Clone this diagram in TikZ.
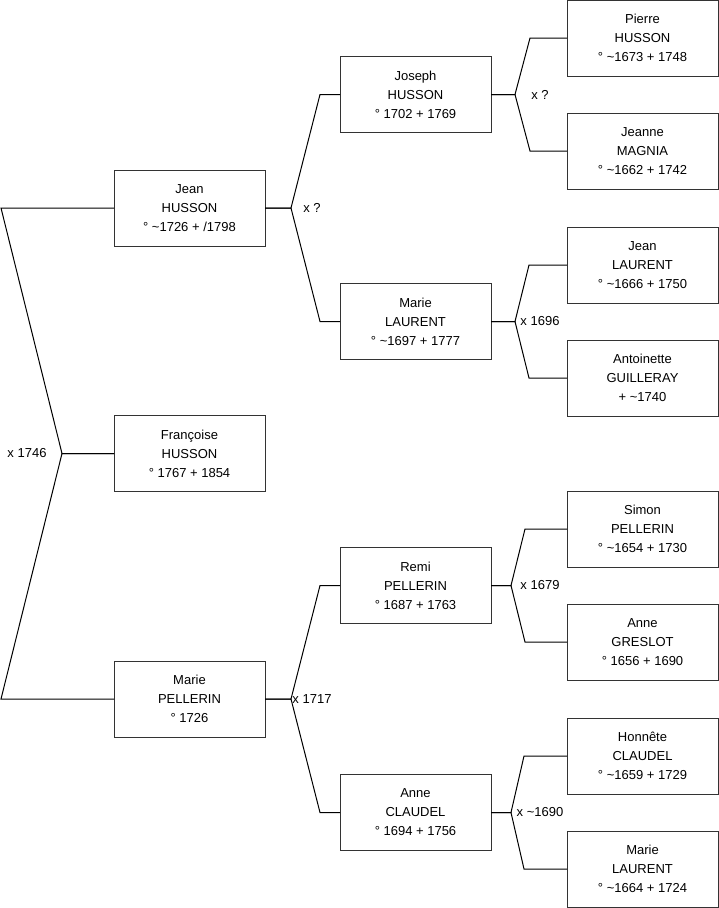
\documentclass[tikz,border=0pt]{standalone}
\usepackage{fontspec}
\setmainfont{Liberation Sans}
\usetikzlibrary{positioning, calc}

\begin{document}
\begin{tikzpicture}[
			x=1pt, y=-1pt,
			% Define styles for the people and the unions
			person/.style={
				draw=black!80,
				line width=1pt,
				minimum width=151pt,
				minimum height=76pt,
				inner sep=0pt,
				outer sep=0pt,
				align=center,
				font=\fontsize{13}{19}\selectfont
			},
			link/.style={
				draw=black,
				line width=1pt
			},
			union/.style={
				inner sep=0pt,
				font=\fontsize{13}{19}\selectfont
			}
			]
			
			\useasboundingbox (0,0) rectangle (719,908);
			
			% --- 1. GREAT-GRANDPARENTS ---
			\node[person] (pierre) at (642.5,38) {Pierre\\HUSSON\\° \textasciitilde1673 + 1748};
			\node[person, below=37pt of pierre] (jeanne) {Jeanne\\MAGNIA\\° \textasciitilde1662 + 1742};
			\node[person, below=38pt of jeanne] (jean_l) {Jean\\LAURENT\\° \textasciitilde1666 + 1750};
			\node[person, below=37pt of jean_l] (antoinette) {Antoinette\\GUILLERAY\\+ \textasciitilde1740};
			\node[person, below=75pt of antoinette] (simon) {Simon\\PELLERIN\\° \textasciitilde1654 + 1730};
			\node[person, below=37pt of simon] (anne_g) {Anne\\GRESLOT\\° 1656 + 1690};
			\node[person, below=38pt of anne_g] (honnete) {Honnête\\CLAUDEL\\° \textasciitilde1659 + 1729};
			\node[person, below=37pt of honnete] (marie_l2) {Marie\\LAURENT\\° \textasciitilde1664 + 1724};
			
			% --- 2. GRANDPARENTS ---
			\node[person] (joseph) at ($(pierre)!0.5!(jeanne)+(-227,0)$) {Joseph\\HUSSON\\° 1702 + 1769};
			\node[person] (marie_l) at ($(jean_l)!0.5!(antoinette)+(-227,0)$) {Marie\\LAURENT\\° \textasciitilde1697 + 1777};
			\node[person] (remi) at ($(simon)!0.5!(anne_g)+(-227,0)$) {Remi\\PELLERIN\\° 1687 + 1763};
			\node[person] (anne_c) at ($(honnete)!0.5!(marie_l2)+(-227,0)$) {Anne\\CLAUDEL\\° 1694 + 1756};
			
			% --- 3. PARENTS ---
			\node[person] (jean) at ($(joseph)!0.5!(marie_l)+(-226,0)$) {Jean\\HUSSON\\° \textasciitilde1726 + /1798};
			\node[person] (marie_p) at ($(remi)!0.5!(anne_c)+(-226,0)$) {Marie\\PELLERIN\\° 1726};
			
			% --- 4. CHILD ---
			\node[person] (francoise) at ($(jean)!0.5!(marie_p)$) {Françoise\\HUSSON\\° 1767 + 1854};
			
			% Links child -> parents
			\draw[link] (francoise.west) -- ++(-52,0) -- ([xshift=-113]jean.west) -- (jean.west);
			\draw[link] (francoise.west) -- ++(-52,0) -- ([xshift=-113]marie_p.west) -- (marie_p.west);
			\node[union] (u_francoise) at ([xshift=-87]francoise.west) {x 1746};
			
			% Links parents -> grandparents
			\draw[link] (jean.east) -- ++(26,0) -- ([xshift=-20]joseph.west) -- (joseph.west);
			\draw[link] (jean.east) -- ++(26,0) -- ([xshift=-20]marie_l.west) -- (marie_l.west);
			\node[union] (u_jean) at ([xshift=47]jean.east) {x ?};
			
			\draw[link] (marie_p.east) -- ++(26,0) -- ([xshift=-20]remi.west) -- (remi.west);
			\draw[link] (marie_p.east) -- ++(26,0) -- ([xshift=-20]anne_c.west) -- (anne_c.west);
			\node[union] (u_marie_p) at ([xshift=47]marie_p.east) {x 1717};
			
			% Links grandparents -> great-grandparents
			\draw[link] (joseph.east) -- ++(24,0) -- ([xshift=-37]pierre.west) -- (pierre.west);
			\draw[link] (joseph.east) -- ++(24,0) -- ([xshift=-37]jeanne.west) -- (jeanne.west);
			\node[union] (u_joseph) at ([xshift=49]joseph.east) {x ?};
			
			\draw[link] (marie_l.east) -- ++(24,0) -- ([xshift=-38]jean_l.west) -- (jean_l.west);
			\draw[link] (marie_l.east) -- ++(24,0) -- ([xshift=-38]antoinette.west) -- (antoinette.west);
			\node[union] (u_marie_l) at ([xshift=49]marie_l.east) {x 1696};
			
			\draw[link] (remi.east) -- ++(20,0) -- ([xshift=-42]simon.west) -- (simon.west);
			\draw[link] (remi.east) -- ++(20,0) -- ([xshift=-42]anne_g.west) -- (anne_g.west);
			\node[union] (u_remi) at ([xshift=49]remi.east) {x 1679};
			
			\draw[link] (anne_c.east) -- ++(20,0) -- ([xshift=-43]honnete.west) -- (honnete.west);
			\draw[link] (anne_c.east) -- ++(20,0) -- ([xshift=-43]marie_l2.west) -- (marie_l2.west);
			\node[union] (u_anne_c) at ([xshift=49]anne_c.east) {x \textasciitilde1690};
			
		\end{tikzpicture}
\end{document}
